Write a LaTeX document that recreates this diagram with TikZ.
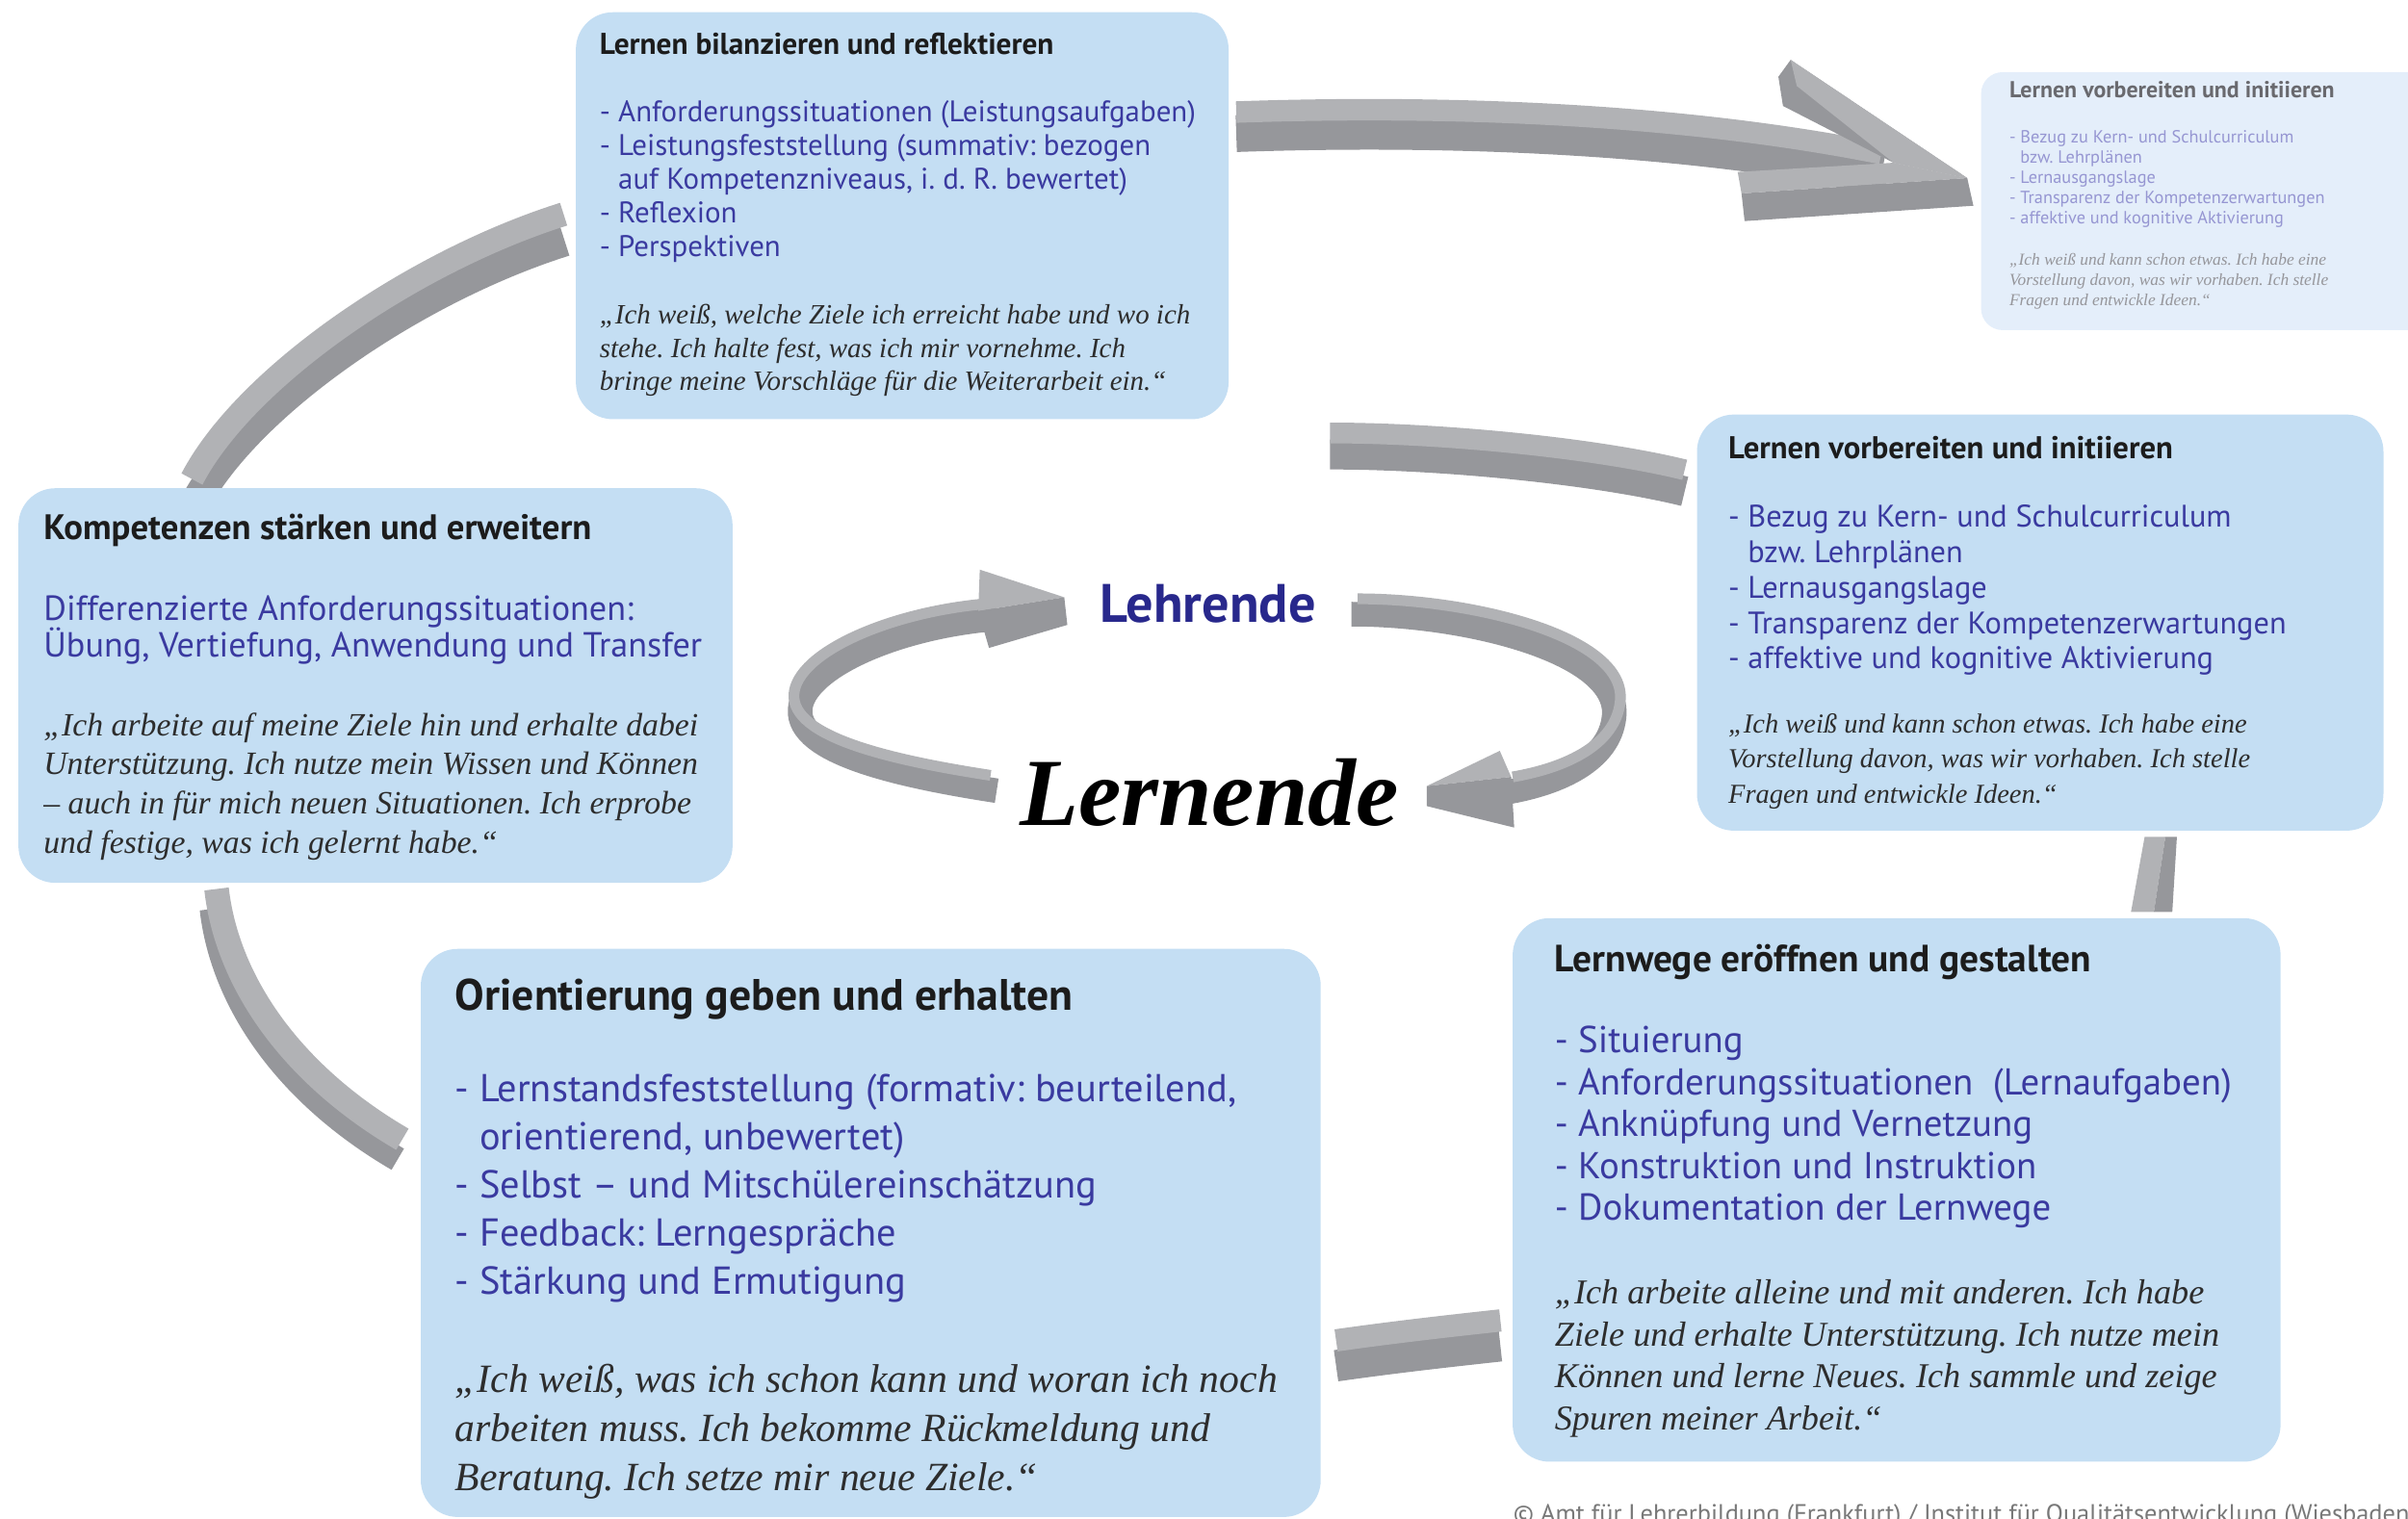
\documentclass[tikz,border=0pt]{standalone}
\usepackage{fontspec}
\usepackage{tikz}
\newfontfamily\sansbox{PT Sans}
\newfontfamily\serifbox{Liberation Serif}
\definecolor{boxblue}{RGB}{196,222,243}
\definecolor{fadeblue}{RGB}{228,238,250}
\definecolor{itemblue}{RGB}{58,58,160}
\definecolor{teachblue}{RGB}{40,40,140}
\definecolor{headgrey}{RGB}{28,28,28}
\definecolor{quotegrey}{RGB}{45,45,45}
\definecolor{fadehead}{RGB}{105,105,110}
\definecolor{fadeitem}{RGB}{150,150,210}
\definecolor{fadequote}{RGB}{150,150,155}
\definecolor{copygrey}{RGB}{120,120,120}
\definecolor{ribtopgrey}{RGB}{177,178,181}
\definecolor{ribsidegrey}{RGB}{150,151,155}
\newdimen\pxu \pxu=0.01595cm
\newcommand{\topstrut}{\rule{0pt}{0.7\baselineskip}}
\tikzset{
  box/.style={fill=boxblue, rounded corners=24\pxu, inner sep=0pt, outer sep=0pt},
  head/.style={anchor=base west, inner sep=0pt, text=headgrey, font=\sansbox\bfseries\fontsize{#1}{#1}\selectfont},
  items/.style 2 args={anchor=north west, inner sep=0pt, align=left, text=itemblue, font=\sansbox\fontsize{#1}{#2}\selectfont},
  quote/.style 2 args={anchor=north west, inner sep=0pt, align=left, text=quotegrey, font=\serifbox\itshape\fontsize{#1}{#2}\selectfont},
  ribtop/.style={draw=ribtopgrey, line cap=butt},
  ribside/.style={draw=ribsidegrey, line cap=butt},
  headtop/.style={fill=ribtopgrey},
  headside/.style={fill=ribsidegrey}
}
\newcommand{\ribbon}[4]{%
  \draw[ribside, line width=#3\pxu, shift={#4}] #1;
  \draw[ribtop, line width=#2\pxu] #1;}
\frenchspacing
\begin{document}
\begin{tikzpicture}[x=0.01595cm,y=-0.01595cm]
    \useasboundingbox (0,0) rectangle (1568,989);
    \clip (0,0) rectangle (1568,989);

    \ribbon{(805,73) .. controls (950,68) and (1100,75) .. (1225,100)}{14}{24}{(0,14)}
    \fill[headside] (1166,39) -- (1281,116) -- (1233,106) -- (1161,69) -- (1158,50) -- cycle;
    \fill[headtop] (1166,39) -- (1281,116) -- (1233,106) -- (1170,56) -- cycle;
    \fill[headtop] (1131.5,112) -- (1233,106) -- (1281,116) -- (1134,126) -- cycle;
    \fill[headside] (1134,126) -- (1281,116) -- (1285,134) -- (1136,144) -- cycle;
    \ribbon{(866,282) .. controls (940,282) and (1040,292) .. (1097,306)}{13.5}{19.5}{(0,14)}
    \fill[headtop] (1396.5,545) -- (1410,545) -- (1402.5,594) -- (1387.6,594) -- cycle;
    \fill[headside] (1410,545) -- (1417.5,545) -- (1414.5,594) -- (1402.5,594) -- cycle;
    \ribbon{(870,873) .. controls (905,868) and (940,864) .. (977,860)}{14.5}{20.5}{(0,16.5)}
    \ribbon{(141,579) .. controls (148,640) and (190,700) .. (262,742)}{16}{16}{(-3,13)}
    \ribbon{(125,312) .. controls (160,245) and (270,170) .. (367,139.5)}{15.5}{19.5}{(0.8,17.7)}

    \ribbon{(645,505) .. controls (580,495) and (515,480) .. (517,452) .. controls (519,425) and (580,398) .. (645,393)}{7}{16}{(4,10)}
    \fill[headtop] (638,371) -- (693,389) -- (637,398) -- cycle;
    \fill[headside] (637,398) -- (693,389) -- (695,407) -- (644,422) -- cycle;
    \ribbon{(884,390) .. controls (960,390) and (1060,415) .. (1055,457) .. controls (1052,485) and (1020,500) .. (985,506)}{7}{16}{(-4,10)}
    \fill[headtop] (976.6,489) -- (929,512) -- (984,506) -- cycle;
    \fill[headside] (984,506) -- (929,512) -- (929,525) -- (986,539) -- cycle;

    \node[box, minimum width=425\pxu, minimum height=265\pxu, anchor=north west] (bil) at (375,8) {};
    \node[box, fill=fadeblue, rounded corners=14\pxu, minimum width=330\pxu, minimum height=168\pxu, anchor=north west] (fad) at (1290,47) {};
    \node[box, minimum width=447\pxu, minimum height=271\pxu, anchor=north west] (vor) at (1105,270) {};
    \node[box, minimum width=465\pxu, minimum height=257\pxu, anchor=north west] (kom) at (12,318) {};
    \node[box, minimum width=586\pxu, minimum height=370\pxu, anchor=north west] (ori) at (274,618) {};
    \node[box, minimum width=500\pxu, minimum height=354\pxu, anchor=north west] (weg) at (985,598) {};

    \node[head=8.9] (bil-head) at (390,35.3) {Lernen bilanzieren und reflektieren};
    \node[items={8.8}{10}] (bil-items) at (390,63.3) {\topstrut- Anforderungssituationen (Leistungsaufgaben)\\- Leistungsfeststellung (summativ: bezogen\\\phantom{- }auf Kompetenzniveaus, i. d. R. bewertet)\\- Reflexion\\- Perspektiven};
    \node[quote={8.24}{9.76}] (bil-quote) at (390,195.6) {\topstrut„Ich weiß, welche Ziele ich erreicht habe und wo ich\\stehe. Ich halte fest, was ich mir vornehme. Ich\\bringe meine Vorschläge für die Weiterarbeit ein.“};

    \node[head=6.8, text=fadehead] (fad-head) at (1308,63.8) {Lernen vorbereiten und initiieren};
    \node[items={5.2}{6.03}, text=fadeitem] (fad-items) at (1308,83.1) {\topstrut- Bezug zu Kern- und Schulcurriculum\\\phantom{- }bzw. Lehrplänen\\- Lernausgangslage\\- Transparenz der Kompetenzerwartungen\\- affektive und kognitive Aktivierung};
    \node[quote={4.95}{5.9}, text=fadequote] (fad-quote) at (1308,163.3) {\topstrut„Ich weiß und kann schon etwas. Ich habe eine\\Vorstellung davon, was wir vorhaben. Ich stelle\\Fragen und entwickle Ideen.“};

    \node[head=9.3] (vor-head) at (1125,298.5) {Lernen vorbereiten und initiieren};
    \node[items={9.2}{10.44}] (vor-items) at (1125,327) {\topstrut- Bezug zu Kern- und Schulcurriculum\\\phantom{- }bzw. Lehrplänen\\- Lernausgangslage\\- Transparenz der Kompetenzerwartungen\\- affektive und kognitive Aktivierung};
    \node[quote={8.1}{10.44}] (vor-quote) at (1125,460.6) {\topstrut„Ich weiß und kann schon etwas. Ich habe eine\\Vorstellung davon, was wir vorhaben. Ich stelle\\Fragen und entwickle Ideen.“};

    \node[head=10.45] (kom-head) at (28,351.5) {Kompetenzen stärken und erweitern};
    \node[items={10.3}{10.9}] (kom-items) at (28,386.9) {\topstrut Differenzierte Anforderungssituationen:\\Übung, Vertiefung, Anwendung und Transfer};
    \node[quote={9.6}{11.65}] (kom-quote) at (28,460.6) {\topstrut„Ich arbeite auf meine Ziele hin und erhalte dabei\\Unterstützung. Ich nutze mein Wissen und Können\\– auch in für mich neuen Situationen. Ich erprobe\\und festige, was ich gelernt habe.“};

    \node[head=13] (ori-head) at (296,657.8) {Orientierung geben und erhalten};
    \node[items={11.5}{14.2}] (ori-items) at (296,695.1) {\topstrut- Lernstandsfeststellung (formativ: beurteilend,\\\phantom{- }orientierend, unbewertet)\\- Selbst – und Mitschülereinschätzung\\- Feedback: Lerngespräche\\- Stärkung und Ermutigung};
    \node[quote={11.85}{14.5}] (ori-quote) at (296,883.9) {\topstrut„Ich weiß, was ich schon kann und woran ich noch\\arbeiten muss. Ich bekomme Rückmeldung und\\Beratung. Ich setze mir neue Ziele.“};

    \node[head=11.2] (weg-head) at (1012,632.8) {Lernwege eröffnen und gestalten};
    \node[items={11.05}{12.4}] (weg-items) at (1012,666) {\topstrut- Situierung\\- Anforderungssituationen\ \ (Lernaufgaben)\\- Anknüpfung und Vernetzung\\- Konstruktion und Instruktion\\- Dokumentation der Lernwege};
    \node[quote={10.3}{12.4}] (weg-quote) at (1012,829.7) {\topstrut„Ich arbeite alleine und mit anderen. Ich habe\\Ziele und erhalte Unterstützung. Ich nutze mein\\Können und lerne Neues. Ich sammle und zeige\\Spuren meiner Arbeit.“};

    \node[inner sep=0pt, text=teachblue, font=\sansbox\bfseries\fontsize{16}{16}\selectfont] (lehr) at (786.5,393.5) {Lehrende};
    \node[inner sep=0pt, text=black, font=\serifbox\bfseries\itshape\fontsize{28.4}{28.4}\selectfont] (lern) at (787.5,516.5) {Lernende};

    \node[anchor=north west, inner sep=0pt, text=copygrey, font=\sansbox\fontsize{7.5}{7.5}\selectfont] (copy) at (985,979) {© Amt für Lehrerbildung (Frankfurt) / Institut für Qualitätsentwicklung (Wiesbaden)};
\end{tikzpicture}
\end{document}
